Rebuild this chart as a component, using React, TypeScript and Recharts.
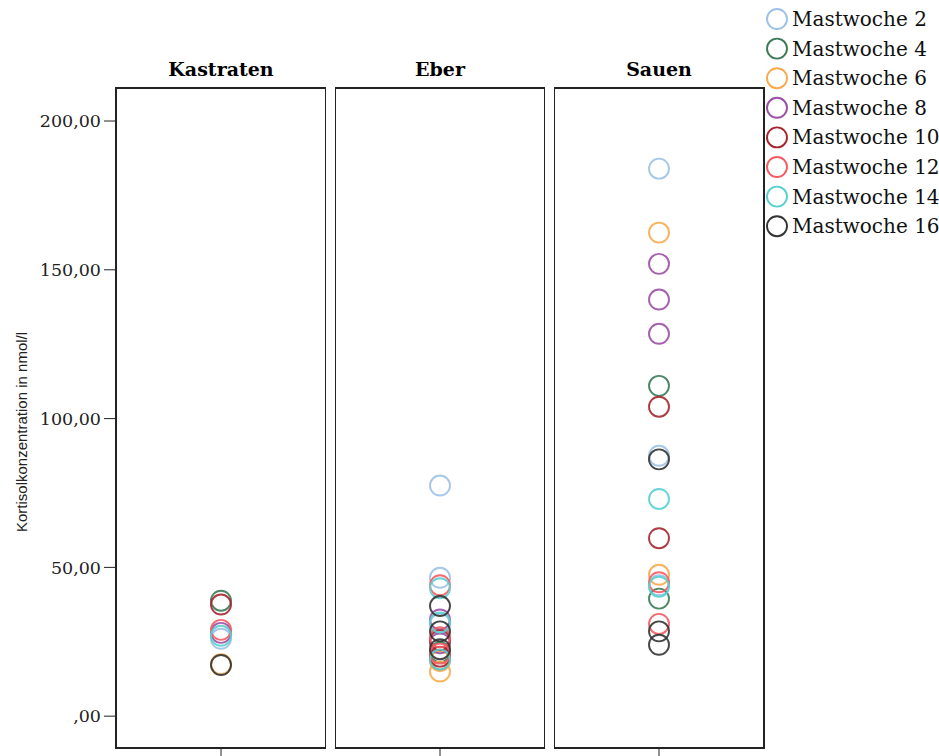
import React from "react";
import {
	Label,
	Legend,
	ReferenceArea,
	Scatter,
	ScatterChart,
	XAxis,
	YAxis,
} from "recharts";

const WEEKS = [
	"Mastwoche 2",
	"Mastwoche 4",
	"Mastwoche 6",
	"Mastwoche 8",
	"Mastwoche 10",
	"Mastwoche 12",
	"Mastwoche 14",
	"Mastwoche 16",
];
const COLORS = [
	"#9cc2e5",
	"#3b7a57",
	"#f9a84a",
	"#9b4fa5",
	"#a5262e",
	"#f45b62",
	"#58d0d0",
	"#333333",
];

// Kortisol (nmol/l) per Mastwoche, one list per group
const kastraten = [[26], [38.8], [17.5], [28], [37.5], [29], [27], [17.2]];
const eber = [
	[77.5, 46.5, 31],
	[21.5, 19],
	[15, 18.5],
	[32.5, 24.5],
	[25.5, 20],
	[44, 26.5, 21],
	[43, 31.5, 19],
	[37, 28.5, 22.5],
];
const sauen = [
	[184, 87.5, 44],
	[111, 39.5],
	[162.5, 47.5],
	[152, 140, 128.5],
	[104, 59.8],
	[45, 31],
	[73, 43.5],
	[86.3, 28.5, 24],
];

const Y_TICKS = [0, 50, 100, 150, 200];
const Y_DOMAIN: [number, number] = [-10.7, 211.1];

const fmt = (v: number) => (v === 0 ? ",00" : v.toFixed(2).replace(".", ","));

const ring = (color: string) => (props: any) => (
	<circle
		cx={props.cx}
		cy={props.cy}
		r={10}
		fill="none"
		stroke={color}
		strokeWidth={1.9}
		strokeOpacity={0.9}
	/>
);

const yLabel = (props: any) => {
	const vb = props.viewBox;
	const x = vb.x + 27;
	const y = vb.y + vb.height / 2 + 14;
	return (
		<text
			x={x}
			y={y}
			transform={`rotate(-90, ${x}, ${y})`}
			textAnchor="middle"
			fontFamily="Liberation Sans, Arial, sans-serif"
			fontSize={15}
			fill="#222"
		>
			Kortisolkonzentration in nmol/l
		</text>
	);
};

// legend keeps the week order of WEEKS (recharts would sort by name)
const renderLegend = () => (
	<svg width={180} height={245}>
		{WEEKS.map((w, i) => (
			<g key={w}>
				<circle
					cx={12}
					cy={19 + i * 29.6}
					r={10}
					fill="none"
					stroke={COLORS[i]}
					strokeWidth={1.9}
				/>
				<text
					x={27}
					y={19 + i * 29.6 + 7}
					fontFamily="DejaVu Serif, serif"
					fontSize={20}
					fill="#111"
				>
					{w}
				</text>
			</g>
		))}
	</svg>
);

interface PanelProps {
	title: string;
	values: number[][];
	width: number;
	left: number;
	showY?: boolean;
	marginRight?: number;
	legend?: boolean;
}

const Panel: React.FC<PanelProps> = ({
	title,
	values,
	width,
	left,
	showY,
	marginRight = 0,
	legend,
}) => (
	<div style={{ position: "absolute", left, top: 0 }}>
		<ScatterChart
			width={width}
			height={756}
			margin={{ top: 88, right: marginRight, bottom: 0, left: 0 }}
		>
			<XAxis
				type="number"
				dataKey="x"
				domain={[0, 2]}
				ticks={[1]}
				tickFormatter={() => ""}
				axisLine={false}
				tickSize={8}
				height={8}
				stroke="#222"
			/>
			<YAxis
				type="number"
				dataKey="y"
				domain={Y_DOMAIN}
				ticks={Y_TICKS}
				allowDataOverflow
				hide={!showY}
				width={116}
				axisLine={false}
				tickSize={12}
				tickMargin={3}
				stroke="#222"
				tickFormatter={fmt}
				tick={{ fontFamily: "DejaVu Serif, serif", fontSize: 17.5, fill: "#222" }}
			>
				<Label content={yLabel} />
			</YAxis>
			<ReferenceArea
				x1={0}
				x2={2}
				y1={Y_DOMAIN[0]}
				y2={Y_DOMAIN[1]}
				fill="none"
				stroke="#222"
				strokeWidth={2}
				fillOpacity={0}
				label={{
					value: title,
					position: "top",
					offset: 12,
					fill: "#000",
					fontFamily: "DejaVu Serif, serif",
					fontWeight: "bold",
					fontSize: 19,
				}}
			/>
			{WEEKS.map((w, i) => (
				<Scatter
					key={w}
					name={w}
					data={values[i].map((y) => ({ x: 1, y }))}
					fill={COLORS[i]}
					shape={ring(COLORS[i])}
					isAnimationActive={false}
				/>
			))}
			{legend && (
				<Legend
					layout="vertical"
					align="center"
					verticalAlign="middle"
					content={renderLegend}
					wrapperStyle={{ top: 0, left: 211, width: 180, height: 245 }}
				/>
			)}
		</ScatterChart>
	</div>
);

export default function App() {
	return (
		<div
			style={{
				position: "absolute",
				left: 0,
				top: 0,
				width: 939,
				height: 756,
				background: "#fff",
			}}
		>
			<Panel title="Kastraten" values={kastraten} left={0} width={326} showY />
			<Panel title="Eber" values={eber} left={335} width={210} />
			<Panel
				title="Sauen"
				values={sauen}
				left={554}
				width={385}
				marginRight={175}
				legend
			/>
		</div>
	);
}
